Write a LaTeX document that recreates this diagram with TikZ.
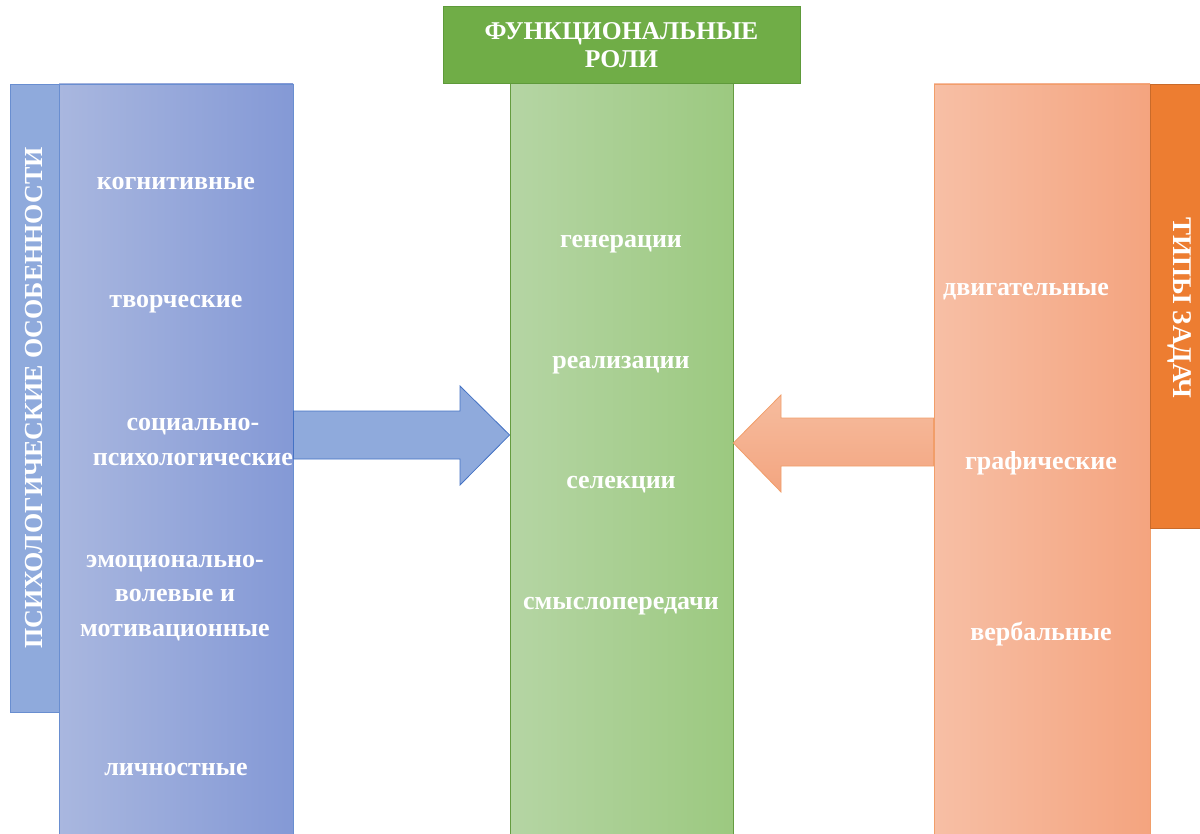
\documentclass[tikz,border=0pt]{standalone}
\usepackage{fontspec}
\setmainfont{Liberation Serif}
\usetikzlibrary{calc}
\definecolor{blueline}{HTML}{4472C4}
\definecolor{bluebar}{HTML}{8FAADC}
\definecolor{greenhead}{HTML}{70AD47}
\definecolor{greenline}{HTML}{5E9A3A}
\definecolor{orangebar}{HTML}{ED7D31}
\definecolor{orangeline}{HTML}{F19E6A}
\tikzset{
  col/.style={draw, rectangle, inner sep=0pt},
  lbl/.style={text=white, font=\bfseries\fontsize{13}{17.2}\selectfont, align=center},
  ttl/.style={text=white, font=\bfseries\fontsize{12.8}{14}\selectfont, align=center}
}
\begin{document}
\begin{tikzpicture}[x=0.5pt, y=-0.5pt]
\useasboundingbox (0,0) rectangle (1200,834);
% columns
\node[col, blueline!80!white, left color={rgb,255:red,169;green,183;blue,223}, right color={rgb,255:red,132;green,153;blue,214}, minimum width=117pt, minimum height=376pt] (lbox) at (176,460) {};
\node[col, blueline!80!white, fill=bluebar, minimum width=24.5pt, minimum height=314pt] (lbar) at (34.5,398) {};
\node[col, greenhead!90!black, left color={rgb,255:red,181;green,213;blue,164}, right color={rgb,255:red,156;green,201;blue,128}, minimum width=111.5pt, minimum height=376pt] (mid) at (621.5,459.5) {};
\node[col, greenline, fill=greenhead, minimum width=178.5pt, minimum height=38.5pt] (head) at (621.5,44.5) {};
\node[col, orangeline, left color={rgb,255:red,247;green,191;blue,165}, right color={rgb,255:red,244;green,164;blue,127}, minimum width=108pt, minimum height=376pt] (rbox) at (1042,460) {};
\node[col, orangebar!85!black, fill=orangebar, minimum width=25pt, minimum height=222pt] (rbar) at (1175,306) {};
% arrows
\draw[blueline, fill=bluebar] (lbox.east |- 0,411) -- (460,411) -- (460,386) -- (mid.west |- 0,435)
  -- (460,485) -- (460,459) -- (lbox.east |- 0,459) -- cycle;
\draw[orangeline, top color={rgb,255:red,246;green,188;blue,158}, bottom color={rgb,255:red,243;green,165;blue,128}]
  (rbox.west |- 0,418) -- (781,418) -- (781,395) -- (mid.east |- 0,443)
  -- (781,492) -- (781,466) -- (rbox.west |- 0,466) -- cycle;
% texts
\node[ttl] (thead) at (621.5,45.5) {ФУНКЦИОНАЛЬНЫЕ\\РОЛИ};
\node[ttl, font=\bfseries\fontsize{13}{14}\selectfont, rotate=90] (tlbar) at (lbar.center) {ПСИХОЛОГИЧЕСКИЕ ОСОБЕННОСТИ};
\node[ttl, font=\bfseries\fontsize{13.5}{14}\selectfont, rotate=-90] (trbar) at (1180,308) {ТИПЫ ЗАДАЧ};
\node[lbl] (l1) at (176,184) {когнитивные};
\node[lbl] (l2) at (176,304) {творческие};
\node[lbl] (l3) at (193,442) {социально-\\психологические};
\node[lbl] (l4) at (175,598) {эмоционально-\\волевые и\\мотивационные};
\node[lbl] (l5) at (176,769) {личностные};
\node[lbl] (m1) at (621,244) {генерации};
\node[lbl] (m2) at (621,365) {реализации};
\node[lbl] (m3) at (621,485) {селекции};
\node[lbl] (m4) at (621,606) {смыслопередачи};
\node[lbl] (r1) at (1026,292) {двигательные};
\node[lbl] (r2) at (1041,463) {графические};
\node[lbl] (r3) at (1041,634) {вербальные};
\end{tikzpicture}
\end{document}
